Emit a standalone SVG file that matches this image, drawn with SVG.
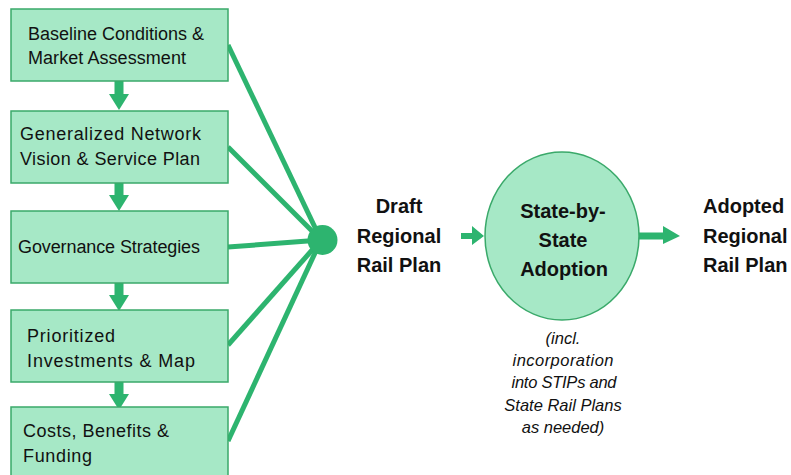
<svg xmlns="http://www.w3.org/2000/svg" width="791" height="475" viewBox="0 0 791 475">
  <style>
    .box { fill: #a6e8c6; stroke: #3aa96a; stroke-width: 1.5; }
    .lbl { font-family: "Liberation Sans", Arial, sans-serif; font-size: 18px; fill: #111; }
    .big { font-family: "Liberation Sans", Arial, sans-serif; font-weight: bold; font-size: 20px; fill: #111; }
    .note { font-family: "Liberation Sans", Arial, sans-serif; font-style: italic; font-size: 16.5px; fill: #111; text-anchor: middle; }
    .fan { stroke: #2db46f; stroke-width: 5; stroke-linecap: butt; fill: none; }
    .arr { fill: #2db46f; }
  </style>
  <defs>
    <!-- downward block arrow used between the stacked steps -->
    <path id="down" d="M-4.5,0 H4.5 V13 H10 L0,29 L-10,13 H-4.5 Z"/>
  </defs>

  <!-- connectors -->
  <g id="connectors">
    <line class="fan" x1="228" y1="45" x2="321" y2="240"/>
    <line class="fan" x1="228" y1="147" x2="321" y2="240"/>
    <line class="fan" x1="228" y1="247" x2="321" y2="240"/>
    <line class="fan" x1="228" y1="345" x2="321" y2="240"/>
    <line class="fan" x1="228" y1="441" x2="321" y2="240"/>
    <use href="#down" class="arr" x="119" y="81"/>
    <use href="#down" class="arr" x="119" y="182"/>
    <use href="#down" class="arr" x="119" y="282"/>
    <use href="#down" class="arr" x="119" y="381"/>
    <path class="arr" d="M461,233 H472 V226 L484,236 L472,245 V239 H461 Z"/>
    <path class="arr" d="M638,232.5 H663 V226 L680,236 L663,244 V239.5 H638 Z"/>
  </g>

  <g id="step-baseline">
    <rect class="box" x="11" y="9" width="217" height="72"/>
    <text class="lbl" x="28" y="40" textLength="176">Baseline Conditions &amp;</text>
    <text class="lbl" x="28" y="64" textLength="158">Market Assessment</text>
  </g>
  <g id="step-network">
    <rect class="box" x="11" y="111" width="217" height="72"/>
    <text class="lbl" x="20" y="140" textLength="181">Generalized Network</text>
    <text class="lbl" x="20" y="165" textLength="180">Vision &amp; Service Plan</text>
  </g>
  <g id="step-governance">
    <rect class="box" x="11" y="211" width="217" height="72"/>
    <text class="lbl" x="18" y="253" textLength="182">Governance Strategies</text>
  </g>
  <g id="step-investments">
    <rect class="box" x="11" y="310" width="217" height="72"/>
    <text class="lbl" x="27" y="342" textLength="88">Prioritized</text>
    <text class="lbl" x="27" y="367" textLength="168">Investments &amp; Map</text>
  </g>
  <g id="step-costs">
    <rect class="box" x="11" y="407" width="217" height="80"/>
    <text class="lbl" x="23" y="437" textLength="146">Costs, Benefits &amp;</text>
    <text class="lbl" x="23" y="462" textLength="69">Funding</text>
  </g>

  <g id="hub">
    <circle cx="322.5" cy="240" r="15" fill="#2db46f"/>
  </g>

  <g id="draft-plan">
    <text class="big" text-anchor="middle" x="399" y="213">Draft</text>
    <text class="big" text-anchor="middle" x="399" y="243">Regional</text>
    <text class="big" text-anchor="middle" x="399" y="272">Rail Plan</text>
  </g>

  <g id="state-adoption">
    <ellipse class="box" cx="562" cy="236" rx="77" ry="84"/>
    <text class="big" font-size="21" text-anchor="middle" x="563" y="218">State-by-</text>
    <text class="big" font-size="21" text-anchor="middle" x="563" y="247">State</text>
    <text class="big" font-size="21" text-anchor="middle" x="564" y="276">Adoption</text>
  </g>

  <g id="adoption-note">
    <text class="note" x="563" y="344">(incl.</text>
    <text class="note" x="563" y="366" textLength="101">incorporation</text>
    <text class="note" x="564" y="388" textLength="105">into STIPs and</text>
    <text class="note" x="563" y="411">State Rail Plans</text>
    <text class="note" x="563" y="433">as needed)</text>
  </g>

  <g id="adopted-plan">
    <text class="big" x="703" y="213">Adopted</text>
    <text class="big" x="703" y="243">Regional</text>
    <text class="big" x="703" y="272">Rail Plan</text>
  </g>
</svg>
